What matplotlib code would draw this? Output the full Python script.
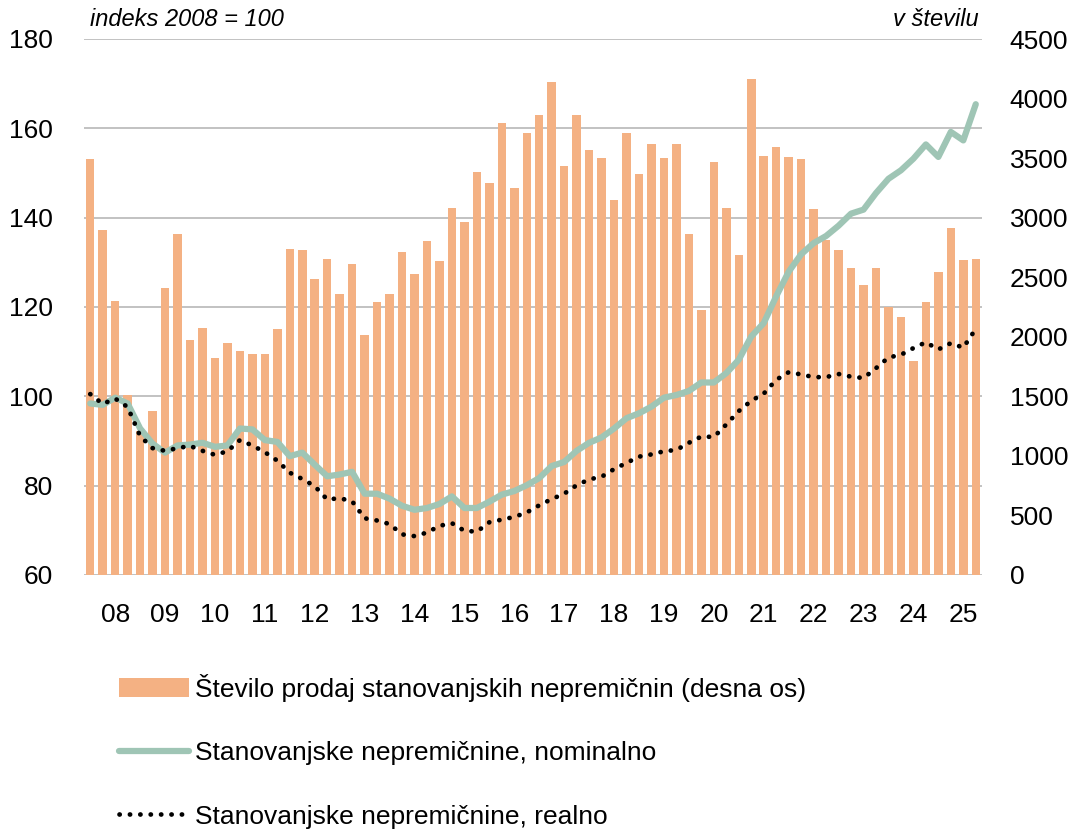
import numpy as np
import matplotlib
matplotlib.use("Agg")
import matplotlib.pyplot as plt

plt.rcParams['font.family'] = ['Liberation Sans Narrow', 'Liberation Sans', 'DejaVu Sans']

# quarterly data, 2008Q1 - 2025Q4
sales = [3490, 2900, 2300, 1510, 1210, 1375, 2410, 2860, 1970, 2075,
         1820, 1950, 1880, 1855, 1855, 2065, 2735, 2725, 2485, 2650,
         2355, 2610, 2015, 2290, 2355, 2710, 2530, 2800, 2635, 3085,
         2960, 3385, 3290, 3795, 3245, 3715, 3860, 4140, 3430, 3860,
         3570, 3500, 3150, 3715, 3370, 3620, 3505, 3615, 2860, 2225,
         3465, 3085, 2690, 4165, 3520, 3590, 3510, 3495, 3075, 2815,
         2725, 2580, 2435, 2580, 2250, 2165, 1800, 2295, 2545, 2915,
         2645, 2655]
nominal = [98.4, 98.1, 99.7, 98.4, 92.8, 89.4, 87.4, 89.0, 89.2, 89.6,
           88.7, 89.0, 92.8, 92.6, 90.2, 89.8, 86.6, 87.4, 84.7, 82.1,
           82.5, 83.1, 78.2, 78.2, 77.1, 75.5, 74.6, 75.0, 75.9, 77.6,
           75.0, 75.0, 76.4, 78.0, 78.8, 80.1, 81.7, 84.4, 85.3, 87.8,
           89.6, 90.8, 92.8, 95.1, 96.2, 97.7, 99.7, 100.3, 101.2, 103.1,
           103.1, 105.2, 108.2, 113.4, 116.4, 122.4, 127.9, 131.8, 134.3, 135.9,
           138.2, 140.9, 141.8, 145.5, 148.7, 150.6, 153.2, 156.4, 153.6, 159.2,
           157.3, 165.4]
real = [100.5, 98.3, 99.5, 97.6, 91.1, 88.4, 87.8, 88.4, 88.9, 87.8,
        86.9, 87.7, 90.2, 89.0, 87.5, 85.6, 82.9, 81.5, 79.9, 76.9,
        77.2, 76.5, 72.7, 72.2, 71.4, 69.1, 68.7, 69.5, 71.0, 71.6,
        69.9, 69.7, 71.8, 72.4, 73.0, 74.0, 75.6, 77.0, 78.2, 80.1,
        81.4, 82.0, 83.7, 85.1, 86.5, 87.0, 87.7, 88.0, 89.6, 91.0,
        90.9, 93.7, 96.7, 99.0, 100.6, 103.7, 105.4, 104.9, 104.3, 104.3,
        105.0, 104.4, 104.1, 106.3, 108.7, 109.3, 110.8, 112.1, 110.5, 111.9,
        110.9, 115.1]
years = ['08', '09', '10', '11', '12', '13', '14', '15', '16',
         '17', '18', '19', '20', '21', '22', '23', '24', '25']

bar_color = '#F4B183'
green = '#9FC5B5'
grid_color = '#BDBDBD'
fs = 19

x = np.arange(len(sales))
W, H = 1074, 833
fig = plt.figure(figsize=(W / 100, H / 100), dpi=100)
pos = [84 / W, 258 / H, 898 / W, 536 / H]

# background axis only for the gridlines (left scale)
ax_bg = fig.add_axes(pos, zorder=0)
ax_bg.set_ylim(60, 180)
ax_bg.set_xlim(-0.5, len(sales) - 0.5)
ax_bg.set_yticks(np.arange(60, 181, 20))
ax_bg.grid(axis='y', color=grid_color, lw=1.3)
ax_bg.tick_params(left=False, bottom=False, labelleft=False, labelbottom=False)
for s in ax_bg.spines.values():
    s.set_visible(False)

# bars on right axis
ax2 = fig.add_axes(pos, zorder=1)
ax2.patch.set_visible(False)
bars = ax2.bar(x, sales, width=0.68, color=bar_color,
               label='Število prodaj stanovanjskih nepremičnin (desna os)')
ax2.set_ylim(0, 4500)
ax2.set_xlim(-0.5, len(sales) - 0.5)
ax2.set_yticks(np.arange(0, 4501, 500))
ax2.yaxis.tick_right()
ax2.tick_params(axis='y', right=False, length=0, labelsize=fs, pad=20)
ax2.set_xticks(x[2::4])
ax2.set_xticklabels(years)
ax2.tick_params(axis='x', bottom=False, length=0, labelsize=fs, pad=20)
for s in ax2.spines.values():
    s.set_visible(False)

# index lines on left axis
ax = fig.add_axes(pos, zorder=2)
ax.patch.set_visible(False)
ln1, = ax.plot(x, nominal, color=green, lw=4.5, solid_capstyle='round',
               label='Stanovanjske nepremičnine, nominalno')
ln2, = ax.plot(x, real, color='black', lw=3.4, linestyle=(0, (0.05, 2.15)),
               dash_capstyle='round', label='Stanovanjske nepremičnine, realno')
ax.set_ylim(60, 180)
ax.set_xlim(-0.5, len(sales) - 0.5)
ax.set_yticks(np.arange(60, 181, 20))
ax.tick_params(axis='y', left=False, length=0, labelsize=fs, pad=22.3)
ax.tick_params(axis='x', bottom=False, labelbottom=False)
for s in ax.spines.values():
    s.set_visible(False)

fig.text(90 / W, 1 - 20 / H, 'indeks 2008 = 100', style='italic', fontsize=17,
         ha='left', va='center')
fig.text(979 / W, 1 - 20 / H, 'v številu', style='italic', fontsize=17,
         ha='right', va='center')

fig.legend(handles=[bars, ln1, ln2], loc='upper left',
           bbox_to_anchor=(108.5 / W, 1 - 663 / H), frameon=False,
           fontsize=fs, handlelength=2.65, handletextpad=0.23, labelspacing=1.5,
           borderaxespad=0)

fig.savefig('out.png', dpi=100)
